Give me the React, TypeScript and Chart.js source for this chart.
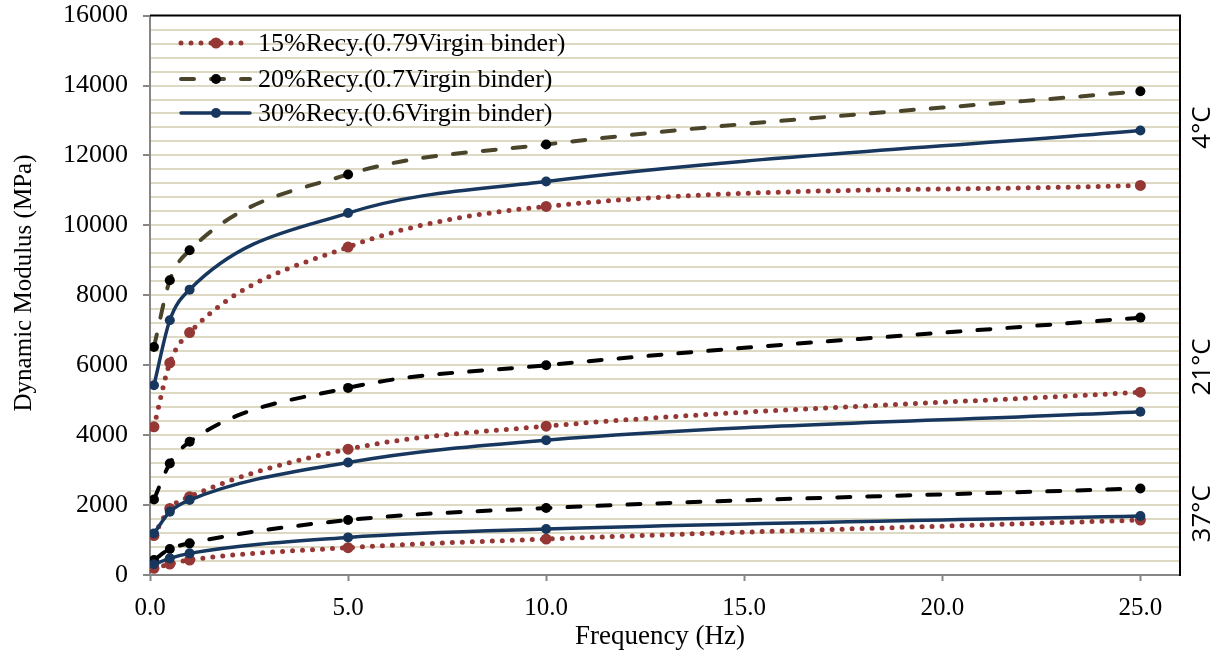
import React, { useEffect, useRef } from "react";
import { Chart, registerables } from "chart.js";
Chart.register(...registerables);

// Frequencies (Hz)
const frequencies = [0.1, 0.5, 1, 5, 10, 25];
const xTickValues = [0, 5, 10, 15, 20, 25];

// 4°C
const recy15_4C = [4238, 6067, 6933, 9381, 10543, 11143];
const recy20_4C = [6523, 8429, 9286, 11457, 12314, 13838];
const recy30_4C = [5429, 7286, 8162, 10352, 11257, 12714];
// 21°C
const recy15_21C = [1130, 1905, 2238, 3600, 4257, 5229];
const recy20_21C = [2162, 3190, 3810, 5352, 6000, 7362];
const recy30_21C = [1190, 1810, 2143, 3219, 3857, 4667];
// 37°C
const recy15_37C = [190, 314, 429, 781, 1029, 1571];
const recy20_37C = [429, 743, 905, 1571, 1914, 2476];
const recy30_37C = [305, 476, 619, 1076, 1314, 1686];

const legendLabels = [
  "15%Recy.(0.79Virgin binder)",
  "20%Recy.(0.7Virgin binder)",
  "30%Recy.(0.6Virgin binder)",
];
const temperatureLabels = ["4°C", "21°C", "37°C"];
const temperatureLabelValues = [12800, 5950, 1750];

const xTitle = "Frequency (Hz)";
const yTitle = "Dynamic Modulus (MPa)";

const RED = "#953735";
const OLIVE = "#4A452A";
const BLACK = "#000000";
const BLUE = "#17375E";

const SERIF = '"Liberation Serif", "Times New Roman", serif';
const SANS = '"Open Sans", "Liberation Sans", sans-serif';

// canvas is drawn 15px taller and shifted up, so the plot top sits at page y=15
const SHIFT = 15;

const toPoints = (ys: number[]) => frequencies.map((x, i) => ({ x, y: ys[i] }));

const styleRed = {
  borderColor: RED,
  backgroundColor: RED,
  borderWidth: 5,
  borderDash: [0, 10],
  borderCapStyle: "round" as const,
  pointRadius: 5.5,
  pointBackgroundColor: RED,
  pointBorderWidth: 0,
  order: 2,
};
const styleDash = (c: string) => ({
  borderColor: c,
  backgroundColor: BLACK,
  borderWidth: 4,
  borderDash: [13, 17],
  borderCapStyle: "round" as const,
  pointRadius: 5,
  pointBackgroundColor: BLACK,
  pointBorderWidth: 0,
  order: 1,
});
const styleBlue = {
  borderColor: BLUE,
  backgroundColor: BLUE,
  borderWidth: 3.5,
  pointRadius: 5,
  pointBackgroundColor: BLUE,
  pointBorderWidth: 0,
  order: 0,
};

const overlayPlugin = {
  id: "overlay",
  afterDraw(chart: any) {
    const { ctx, chartArea, scales } = chart;
    const ys = scales.y;
    ctx.save();
    // top & right border
    ctx.strokeStyle = "#000";
    ctx.lineWidth = 2;
    ctx.beginPath();
    ctx.moveTo(chartArea.left, chartArea.top);
    ctx.lineTo(chartArea.right, chartArea.top);
    ctx.lineTo(chartArea.right, chartArea.bottom + 1);
    ctx.stroke();

    // legend
    const rows = [43, 79, 113].map((v) => v + SHIFT);
    const styles = [
      { c: RED, w: 5, dash: [0, 10], r: 5.5, m: RED },
      { c: OLIVE, w: 4, dash: [13, 17], r: 5, m: BLACK },
      { c: BLUE, w: 3.5, dash: [], r: 5, m: BLUE },
    ];
    rows.forEach((y, i) => {
      const s = styles[i];
      ctx.strokeStyle = s.c;
      ctx.lineWidth = s.w;
      ctx.lineCap = "round";
      ctx.setLineDash(s.dash);
      ctx.beginPath();
      ctx.moveTo(181, y);
      ctx.lineTo(250, y);
      ctx.stroke();
      ctx.setLineDash([]);
      ctx.fillStyle = s.m;
      ctx.beginPath();
      ctx.arc(216, y, s.r, 0, Math.PI * 2);
      ctx.fill();
      ctx.fillStyle = "#000";
      ctx.font = `26px ${SERIF}`;
      ctx.textAlign = "left";
      ctx.textBaseline = "middle";
      ctx.fillText(legendLabels[i], 258, y + 1);
    });

    // temperature labels
    ctx.fillStyle = "#000";
    ctx.font = `26px ${SANS}`;
    ctx.textAlign = "center";
    ctx.textBaseline = "middle";
    temperatureLabels.forEach((t, i) => {
      const py = ys.getPixelForValue(temperatureLabelValues[i]);
      ctx.save();
      ctx.translate(1203, py);
      ctx.rotate(-Math.PI / 2);
      ctx.fillText(t, 0, 0);
      ctx.restore();
    });

    // axis titles
    ctx.font = `25px ${SERIF}`;
    ctx.save();
    ctx.translate(24, 283 + SHIFT);
    ctx.rotate(-Math.PI / 2);
    ctx.fillText(yTitle, 0, 0);
    ctx.restore();
    ctx.font = `27px ${SERIF}`;
    ctx.fillText(xTitle, 660, 637 + SHIFT);
    ctx.restore();
  },
};

export default function App() {
  const ref = useRef<HTMLCanvasElement>(null);
  useEffect(() => {
    document.body.style.margin = "0";
    document.body.style.overflow = "hidden";
    const canvas = ref.current!;
    const chart = new Chart(canvas, {
      type: "line",
      data: {
        datasets: [
          { label: legendLabels[0], data: toPoints(recy15_4C), ...styleRed },
          { label: legendLabels[1], data: toPoints(recy20_4C), ...styleDash(OLIVE) },
          { label: legendLabels[2], data: toPoints(recy30_4C), ...styleBlue },
          { label: legendLabels[0], data: toPoints(recy15_21C), ...styleRed },
          { label: legendLabels[1], data: toPoints(recy20_21C), ...styleDash(BLACK) },
          { label: legendLabels[2], data: toPoints(recy30_21C), ...styleBlue },
          { label: legendLabels[0], data: toPoints(recy15_37C), ...styleRed },
          { label: legendLabels[1], data: toPoints(recy20_37C), ...styleDash(BLACK) },
          { label: legendLabels[2], data: toPoints(recy30_37C), ...styleBlue },
        ] as any,
      },
      options: {
        responsive: false,
        animation: false,
        events: [],
        layout: { padding: { top: 0, right: 43, left: 0, bottom: 0 } },
        elements: { line: { cubicInterpolationMode: "monotone" } },
        plugins: { legend: { display: false }, tooltip: { enabled: false } },
        scales: {
          x: {
            type: "linear",
            min: 0,
            max: 26,
            afterFit: (s: any) => {
              s.height = 86;
            },
            afterBuildTicks: (s: any) => {
              s.ticks = xTickValues.map((v) => ({ value: v }));
            },
            ticks: {
              autoSkip: false,
              maxRotation: 0,
              padding: 12,
              color: "#000",
              font: { family: SERIF, size: 25 },
              callback: (v: any) => Number(v).toFixed(1),
            },
            grid: {
              drawOnChartArea: false,
              drawTicks: true,
              tickLength: 6,
              tickColor: "#868686",
              tickWidth: 2,
            },
            border: { color: "#868686", width: 2 },
          },
          y: {
            type: "linear",
            min: 0,
            max: 16000,
            afterFit: (s: any) => {
              s.width = 150;
            },
            ticks: {
              stepSize: 400,
              autoSkip: false,
              padding: 15,
              color: "#000",
              font: { family: SERIF, size: 26 },
              callback: (v: any) => (Number(v) % 2000 === 0 ? String(v) : ""),
            },
            grid: {
              color: (c: any) =>
                c.tick && (c.tick.value === 0 || c.tick.value === 16000) ? "rgba(0,0,0,0)" : "#DDD9C3",
              lineWidth: 2,
              tickLength: 7,
              tickWidth: 2,
              tickColor: (c: any) =>
                c.tick && c.tick.value % 2000 === 0 ? "#868686" : "rgba(0,0,0,0)",
            },
            border: { color: "#868686", width: 2 },
          },
        },
      } as any,
      plugins: [overlayPlugin],
    });
    return () => chart.destroy();
  }, []);
  return (
    <div style={{ position: "absolute", left: 0, top: -SHIFT, width: 1223, height: 661 + SHIFT }}>
      <canvas ref={ref} width={1223} height={661 + SHIFT} style={{ display: "block" }} />
    </div>
  );
}
